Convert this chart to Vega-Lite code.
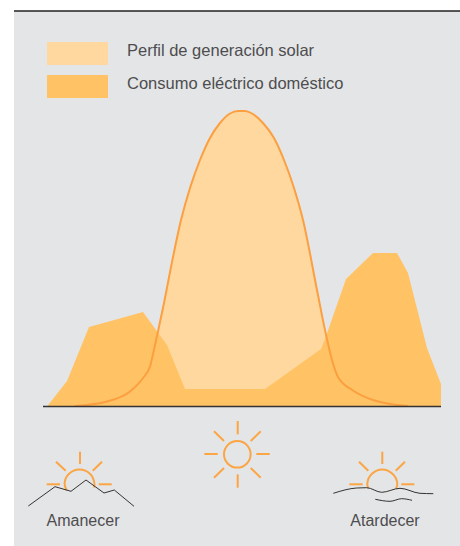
{"$schema":"https://vega.github.io/schema/vega-lite/v6.json","width":460,"height":546,"autosize":{"type":"none"},"padding":0,"background":"#ffffff","view":{"stroke":null},
"config":{"font":"Liberation Sans"},
"datasets":{
"panel":[{"x":14,"x2":460,"y":395.5,"y2":-139.5}],
"curvas":[
{"serie":"Perfil de generación solar","x":75,"v":0.5},{"serie":"Perfil de generación solar","x":107,"v":5},{"serie":"Perfil de generación solar","x":130,"v":15},{"serie":"Perfil de generación solar","x":143,"v":28.5},{"serie":"Perfil de generación solar","x":150,"v":40},{"serie":"Perfil de generación solar","x":155,"v":61.5},{"serie":"Perfil de generación solar","x":158,"v":75},{"serie":"Perfil de generación solar","x":164,"v":103.5},{"serie":"Perfil de generación solar","x":171,"v":139.5},{"serie":"Perfil de generación solar","x":181,"v":186.5},{"serie":"Perfil de generación solar","x":190,"v":218.5},{"serie":"Perfil de generación solar","x":200,"v":246.5},{"serie":"Perfil de generación solar","x":210,"v":268.5},{"serie":"Perfil de generación solar","x":220,"v":283.5},{"serie":"Perfil de generación solar","x":230,"v":293},{"serie":"Perfil de generación solar","x":238,"v":295.5},{"serie":"Perfil de generación solar","x":245,"v":295.5},{"serie":"Perfil de generación solar","x":252,"v":293},{"serie":"Perfil de generación solar","x":263,"v":283.5},{"serie":"Perfil de generación solar","x":274,"v":268.5},{"serie":"Perfil de generación solar","x":284,"v":246.5},{"serie":"Perfil de generación solar","x":294,"v":218.5},{"serie":"Perfil de generación solar","x":303,"v":186.5},{"serie":"Perfil de generación solar","x":317,"v":116.5},{"serie":"Perfil de generación solar","x":325,"v":76.5},{"serie":"Perfil de generación solar","x":332,"v":46.5},{"serie":"Perfil de generación solar","x":338,"v":29.5},{"serie":"Perfil de generación solar","x":353,"v":16},{"serie":"Perfil de generación solar","x":373,"v":6.5},{"serie":"Perfil de generación solar","x":390,"v":2.5},{"serie":"Perfil de generación solar","x":408,"v":0.5}],
"consumo":[
{"serie":"Consumo eléctrico doméstico","x":47,"v":0},{"serie":"Consumo eléctrico doméstico","x":67,"v":25.5},{"serie":"Consumo eléctrico doméstico","x":89,"v":79.5},{"serie":"Consumo eléctrico doméstico","x":143,"v":94.5},{"serie":"Consumo eléctrico doméstico","x":167,"v":61.5},{"serie":"Consumo eléctrico doméstico","x":185,"v":17.5},{"serie":"Consumo eléctrico doméstico","x":265,"v":17.5},{"serie":"Consumo eléctrico doméstico","x":321,"v":57.5},{"serie":"Consumo eléctrico doméstico","x":325,"v":67.5},{"serie":"Consumo eléctrico doméstico","x":346,"v":127.5},{"serie":"Consumo eléctrico doméstico","x":373,"v":153.5},{"serie":"Consumo eléctrico doméstico","x":397,"v":153.5},{"serie":"Consumo eléctrico doméstico","x":408,"v":133.5},{"serie":"Consumo eléctrico doméstico","x":427,"v":58.5},{"serie":"Consumo eléctrico doméstico","x":441,"v":22.5},{"serie":"Consumo eléctrico doméstico","x":441,"v":0}],
"rayos":[
{"x":80,"y":-45.2,"x2":80,"y2":-57.5},{"x":56,"y":-55.2,"x2":65.7,"y2":-64.2},{"x":102,"y":-55.2,"x2":92.7,"y2":-64.2},{"x":46.7,"y":-77.8,"x2":60,"y2":-77.8},{"x":98.7,"y":-77.8,"x2":111.7,"y2":-77.8},
{"x":237.7,"y":-14.5,"x2":237.7,"y2":-27.8},{"x":237.7,"y":-67.8,"x2":237.7,"y2":-81.2},{"x":204.3,"y":-47.5,"x2":217.7,"y2":-47.5},{"x":256.3,"y":-47.5,"x2":269.7,"y2":-47.5},{"x":214,"y":-24.8,"x2":224,"y2":-34.5},{"x":260.7,"y":-24.8,"x2":250.7,"y2":-34.5},{"x":214,"y":-71.2,"x2":224,"y2":-61.5},{"x":260.7,"y":-71.2,"x2":250.7,"y2":-61.5},
{"x":382.3,"y":-45.2,"x2":382.3,"y2":-57.5},{"x":359,"y":-55.2,"x2":368.3,"y2":-64.2},{"x":405,"y":-55.2,"x2":395.7,"y2":-64.2},{"x":349.3,"y":-77.8,"x2":362.7,"y2":-77.8},{"x":401.3,"y":-77.8,"x2":414.3,"y2":-77.8}],
"arcos":[
{"id":"a","o":1,"x":66.7,"v":-84},{"id":"a","o":2,"x":64.6,"v":-76.8},{"id":"a","o":3,"x":68.8,"v":-67.5},{"id":"a","o":4,"x":79.5,"v":-63},{"id":"a","o":5,"x":90.2,"v":-67.5},{"id":"a","o":6,"x":94.4,"v":-76.8},{"id":"a","o":7,"x":94,"v":-81},
{"id":"b","o":1,"x":368.3,"v":-81.8},{"id":"b","o":2,"x":367.3,"v":-76.8},{"id":"b","o":3,"x":371.7,"v":-67.5},{"id":"b","o":4,"x":382.3,"v":-63},{"id":"b","o":5,"x":392.7,"v":-67.5},{"id":"b","o":6,"x":397.3,"v":-76.8},{"id":"b","o":7,"x":396,"v":-82.2}],
"montana":[{"x":28.3,"v":-99.5},{"x":55,"v":-80.2},{"x":71,"v":-84.8},{"x":86,"v":-73.5},{"x":104,"v":-86.5},{"x":114.3,"v":-83.5},{"x":134,"v":-99.8}],
"olas":[
{"id":"1","x":333.3,"v":-86.8},{"id":"1","x":356.7,"v":-81.5},{"id":"1","x":366.7,"v":-81.2},{"id":"1","x":381.7,"v":-85.8},{"id":"1","x":400,"v":-81.8},{"id":"1","x":420,"v":-86.8},{"id":"1","x":433.3,"v":-87.2},
{"id":"2","x":375.3,"v":-92.8},{"id":"2","x":390,"v":-94.8},{"id":"2","x":401.7,"v":-92.2},{"id":"2","x":412,"v":-93.8}],
"textos":[{"x":83,"v":-119.5,"t":"Amanecer"},{"x":385,"v":-119.5,"t":"Atardecer"}]
},
"layer":[
{"data":{"name":"panel"},"mark":{"type":"rect","color":"#e4e5e7"},"encoding":{"x":{"field":"x","type":"quantitative","scale":{"domain":[0,460],"nice":false,"zero":false},"axis":null},"x2":{"field":"x2"},"y":{"field":"y","type":"quantitative","scale":{"domain":[-139.5,406.5],"nice":false,"zero":false},"axis":null},"y2":{"field":"y2"}}},
{"data":{"name":"panel"},"mark":{"type":"rule","color":"#231f20","strokeWidth":1.5},"encoding":{"x":{"field":"x","type":"quantitative"},"x2":{"field":"x2"},"y":{"field":"y","type":"quantitative"}}},
{"data":{"name":"curvas"},"mark":{"type":"area","interpolate":"monotone","opacity":1},"encoding":{"x":{"field":"x","type":"quantitative"},"y":{"field":"v","type":"quantitative"},"y2":{"datum":0},"color":{"field":"serie","type":"nominal","scale":{"domain":["Perfil de generación solar","Consumo eléctrico doméstico"],"range":["#ffd8a0","#ffc365"]},"legend":{"title":null,"orient":"none","legendX":66,"legendY":42,"padding":0,"symbolType":"M-2.652,-1H2.652V1H-2.652Z","symbolSize":529,"symbolStrokeWidth":0,"symbolOpacity":1,"labelFont":"Liberation Sans","labelFontSize":16.5,"labelColor":"#4d4d4f","labelOffset":38,"labelLimit":320,"rowPadding":10,"encoding":{"labels":{"dy":{"value":-2.5}}}}}}},
{"data":{"name":"consumo"},"mark":{"type":"area","opacity":1},"encoding":{"x":{"field":"x","type":"quantitative"},"y":{"field":"v","type":"quantitative"},"y2":{"datum":0},"color":{"field":"serie","type":"nominal"}}},
{"data":{"name":"curvas"},"mark":{"type":"line","interpolate":"monotone","color":"#fb9f40","strokeWidth":2},"encoding":{"x":{"field":"x","type":"quantitative"},"y":{"field":"v","type":"quantitative"}}},
{"data":{"values":[{"x":43,"x2":441,"v":0}]},"mark":{"type":"rule","color":"#333333","strokeWidth":1.3},"encoding":{"x":{"field":"x","type":"quantitative"},"x2":{"field":"x2"},"y":{"field":"v","type":"quantitative"}}},
{"data":{"name":"rayos"},"mark":{"type":"rule","color":"#fba544","strokeWidth":2},"encoding":{"x":{"field":"x","type":"quantitative"},"x2":{"field":"x2"},"y":{"field":"y","type":"quantitative"},"y2":{"field":"y2"}}},
{"data":{"name":"arcos"},"mark":{"type":"line","interpolate":"catmull-rom","color":"#fba544","strokeWidth":2},"encoding":{"x":{"field":"x","type":"quantitative"},"y":{"field":"v","type":"quantitative"},"detail":{"field":"id"},"order":{"field":"o","type":"quantitative"}}},
{"data":{"values":[{"x":237.3,"v":-47.8}]},"mark":{"type":"point","filled":false,"color":"#fba544","strokeWidth":2,"size":707,"opacity":1},"encoding":{"x":{"field":"x","type":"quantitative"},"y":{"field":"v","type":"quantitative"}}},
{"data":{"name":"montana"},"mark":{"type":"line","color":"#333333","strokeWidth":1},"encoding":{"x":{"field":"x","type":"quantitative"},"y":{"field":"v","type":"quantitative"}}},
{"data":{"name":"olas"},"mark":{"type":"line","interpolate":"monotone","color":"#333333","strokeWidth":1},"encoding":{"x":{"field":"x","type":"quantitative"},"y":{"field":"v","type":"quantitative"},"detail":{"field":"id"}}},
{"data":{"name":"textos"},"mark":{"type":"text","font":"Liberation Sans","fontSize":16,"color":"#4d4d4f","align":"center","baseline":"alphabetic"},"encoding":{"x":{"field":"x","type":"quantitative"},"y":{"field":"v","type":"quantitative"},"text":{"field":"t"}}}
]}
